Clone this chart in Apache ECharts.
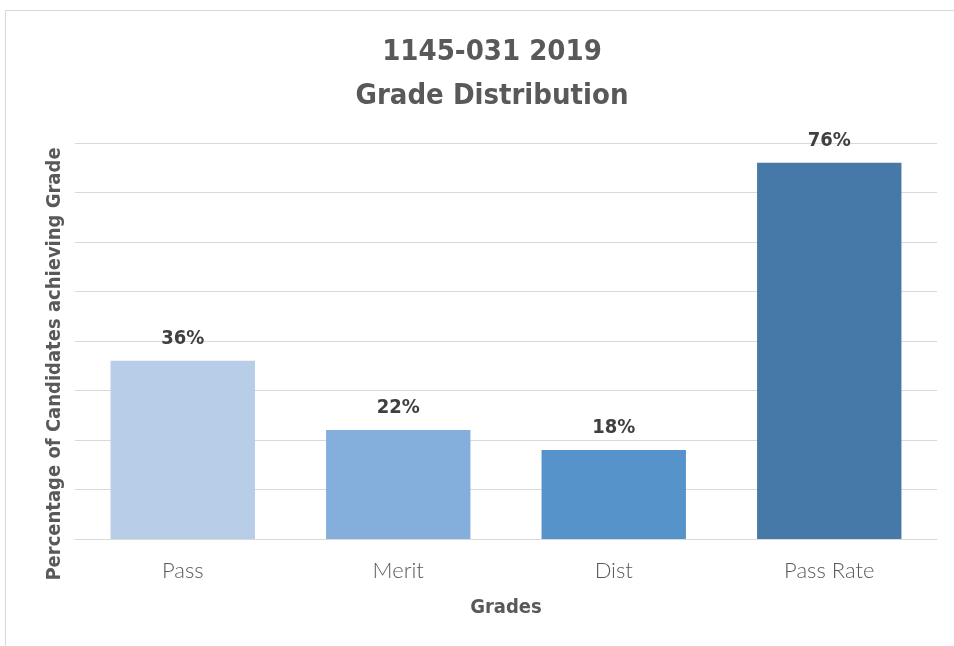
<!DOCTYPE html>
<html lang="en">
<head>
    <meta charset="UTF-8">
    <title>Grade Distribution</title>
    <style>
        body { margin: 0; background: #fff; }
        #frame { position: absolute; left: 5px; top: 10px; width: 960px; height: 650px; border: 1px solid #d9d9d9; box-sizing: border-box; }
        #main { position: absolute; left: 0; top: 0; width: 954px; height: 646px; }
    </style>
</head>
<body>
<div id="frame"></div>
<div id="main"></div>
<script src="https://cdn.jsdelivr.net/npm/echarts@6/dist/echarts.min.js"></script>
<script>
    var categories = ['Pass', 'Merit', 'Dist', 'Pass Rate'];
    var percentages = [36, 22, 18, 76];
    var barColors = ['#b7cde8', '#84afdc', '#5593ca', '#4679a8'];

    var myChart = echarts.init(document.getElementById('main'));

    var condensed = '"DejaVu Sans Condensed", "DejaVu Sans", sans-serif';
    var textColor = '#595959';

    var option = {
        animation: false,
        title: {
            text: '1145-031 2019\nGrade Distribution',
            left: 487,
            top: 25,
            textAlign: 'center',
            textStyle: {
                fontFamily: condensed,
                fontWeight: 'bold',
                fontSize: 29,
                lineHeight: 44,
                color: textColor
            }
        },
        grid: {
            left: 75,
            right: 17,
            top: 143,
            bottom: 107
        },
        xAxis: {
            type: 'category',
            data: categories,
            name: 'Grades',
            nameLocation: 'middle',
            nameGap: 59,
            nameTextStyle: {
                fontFamily: condensed,
                fontWeight: 'bold',
                fontSize: 20,
                color: textColor
            },
            axisLine: { lineStyle: { color: '#d9d9d9' } },
            axisTick: { show: false },
            axisLabel: {
                fontFamily: 'Lato, "DejaVu Sans", sans-serif',
                fontWeight: 300,
                fontSize: 22,
                color: textColor,
                margin: 21
            }
        },
        yAxis: {
            type: 'value',
            min: 0,
            max: 80,
            interval: 10,
            name: 'Percentage of Candidates achieving Grade',
            nameLocation: 'middle',
            nameGap: 10,
            nameTextStyle: {
                fontFamily: condensed,
                fontWeight: 'bold',
                fontSize: 20,
                color: textColor,
                padding: [0, 46, 0, 0]
            },
            axisLabel: { show: false },
            axisLine: { show: false },
            axisTick: { show: false },
            splitLine: { lineStyle: { color: '#d9d9d9', width: 1 } }
        },
        series: [{
            type: 'bar',
            barCategoryGap: '33%',
            data: percentages.map(function (v, i) {
                return { value: v, itemStyle: { color: barColors[i] } };
            }),
            label: {
                show: true,
                position: 'top',
                distance: 12,
                formatter: '{c}%',
                fontFamily: condensed,
                fontWeight: 'bold',
                fontSize: 20,
                color: '#404040'
            }
        }]
    };
    myChart.setOption(option);
</script>
</body>
</html>
